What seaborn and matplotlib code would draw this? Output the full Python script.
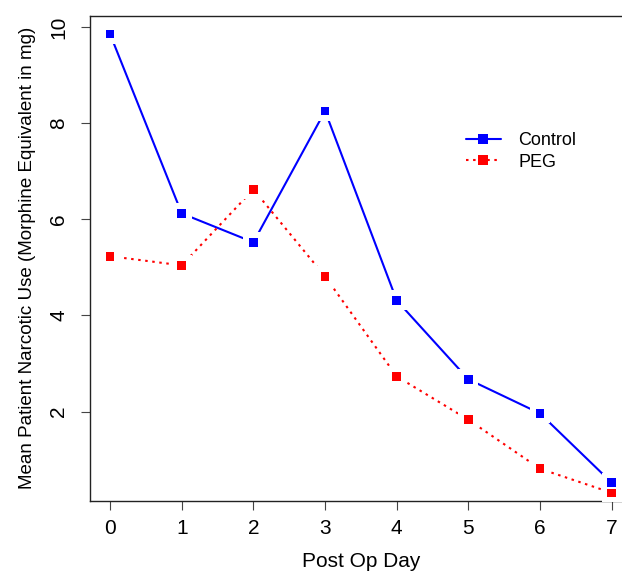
import matplotlib
matplotlib.use("Agg")
import matplotlib.pyplot as plt
import pandas as pd
import seaborn as sns

# --- data ---
days = [0, 1, 2, 3, 4, 5, 6, 7]
control = [9.85, 6.12, 5.52, 8.25, 4.31, 2.67, 1.96, 0.52]
peg = [5.23, 5.04, 6.62, 4.81, 2.73, 1.83, 0.81, 0.31]
groups = ["Control", "PEG"]
colors = {"Control": "#0000FF", "PEG": "#FF0000"}

df = pd.DataFrame({
    "Day": days * 2,
    "Use": control + peg,
    "Group": ["Control"] * len(days) + ["PEG"] * len(days),
})

sns.set_style("ticks")
plt.rcParams["font.family"] = ["Liberation Sans", "DejaVu Sans"]
plt.rcParams["text.color"] = "black"
plt.rcParams["axes.labelcolor"] = "black"
plt.rcParams["xtick.color"] = "black"
plt.rcParams["ytick.color"] = "black"

fig = plt.figure(figsize=(6.22, 5.77), dpi=100)
# axes runs past the right edge, as in the (cropped) reference
ax = fig.add_axes([90 / 622, 76.3 / 577, 541.8 / 622, 484.9 / 577])

sns.lineplot(data=df, x="Day", y="Use", hue="Group", style="Group",
             hue_order=groups, style_order=groups, palette=colors,
             markers={"Control": "s", "PEG": "s"},
             dashes={"Control": "", "PEG": (1.2, 2.2)},
             markersize=6, markeredgewidth=0, linewidth=1.5, ax=ax)

# R type="b": gaps around the points
sns.scatterplot(data=df, x="Day", y="Use", color="white", marker="s",
                s=210, linewidth=0, legend=False, ax=ax, zorder=3)
sns.scatterplot(data=df, x="Day", y="Use", hue="Group", hue_order=groups,
                palette=colors, marker="s", s=38, linewidth=0,
                legend=False, ax=ax, zorder=4)

ax.set_xlim(-0.28, 7.28)
ax.set_ylim(0.146, 10.23)
ax.set_xticks(days)
ax.set_yticks([2, 4, 6, 8, 10])
ax.tick_params(axis="both", length=6.5, width=0.8, color="#444444",
               labelcolor="black", labelsize=15, pad=7)
ax.tick_params(axis="y", pad=9)
for lab in ax.get_yticklabels():
    lab.set_rotation(90)
    lab.set_va("center")

for side in ["left", "right", "top", "bottom"]:
    ax.spines[side].set_visible(True)
    ax.spines[side].set_linewidth(1.0)
    ax.spines[side].set_color("#222222")

ax.set_xlabel("Post Op Day", fontsize=15, labelpad=10, color="black")
ax.set_ylabel("Mean Patient Narcotic Use (Morphine Equivalent in mg)",
              fontsize=13.5, labelpad=10, color="black")

leg = ax.legend(loc="upper left", bbox_to_anchor=(360 / 541.8, 1 - 100 / 484.9),
                frameon=False, fontsize=13, handlelength=1.9,
                handletextpad=1.0, labelspacing=0.25)
for h in leg.legend_handles:
    h.set_markersize(7)
for t in leg.get_texts():
    t.set_color("black")

fig.savefig("out.png", dpi=100)
